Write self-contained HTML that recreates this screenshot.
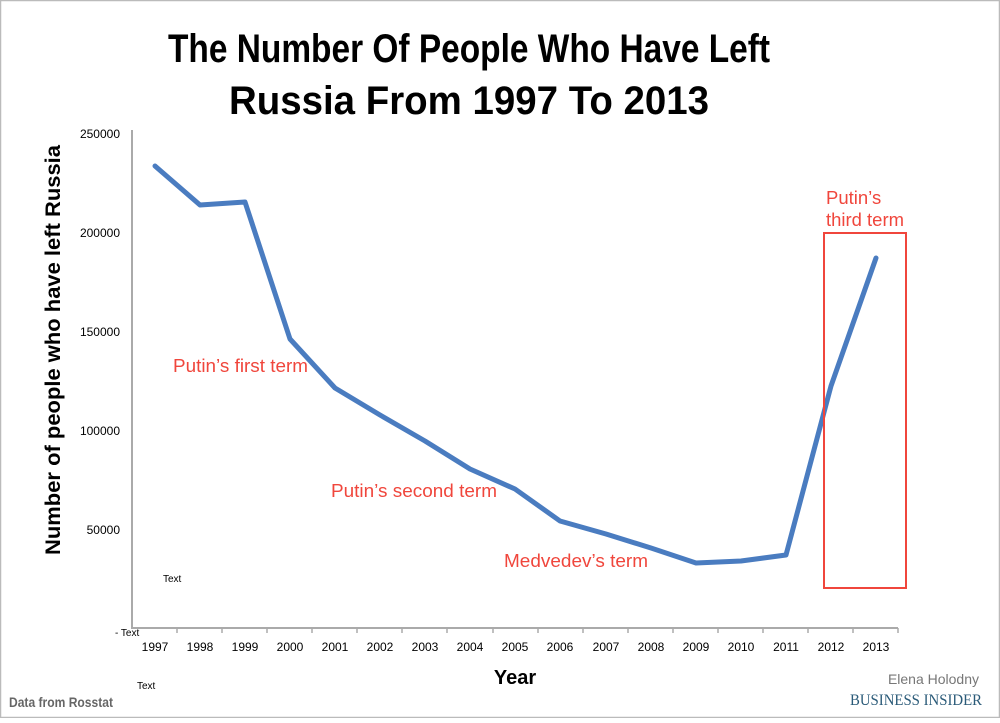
<!DOCTYPE html>
<html><head><meta charset="utf-8"><style>body{margin:0;background:#fff}</style></head><body>
<svg width="1000" height="718" xmlns="http://www.w3.org/2000/svg" font-family="Liberation Sans, sans-serif">
<rect x="0.5" y="0.5" width="999" height="717" fill="#fff" stroke="#bbb" stroke-width="1.5"/>
<text x="469" y="62" font-size="40" font-weight="bold" text-anchor="middle" textLength="602" lengthAdjust="spacingAndGlyphs">The Number Of People Who Have Left</text>
<text x="469" y="114" font-size="40" font-weight="bold" text-anchor="middle" textLength="480" lengthAdjust="spacingAndGlyphs">Russia From 1997 To 2013</text>
<text transform="translate(60,350) rotate(-90)" font-size="21" font-weight="bold" text-anchor="middle" textLength="410" lengthAdjust="spacingAndGlyphs">Number of people who have left Russia</text>
<g stroke="#aaa" stroke-width="2" fill="none">
<line x1="132" y1="130" x2="132" y2="629"/>
<line x1="131" y1="628" x2="898" y2="628"/>
</g>
<g stroke="#aaa" stroke-width="1.5">
<line x1="177" y1="628" x2="177" y2="633"/><line x1="222" y1="628" x2="222" y2="633"/><line x1="267" y1="628" x2="267" y2="633"/><line x1="312" y1="628" x2="312" y2="633"/><line x1="357" y1="628" x2="357" y2="633"/><line x1="402" y1="628" x2="402" y2="633"/><line x1="447" y1="628" x2="447" y2="633"/><line x1="493" y1="628" x2="493" y2="633"/><line x1="538" y1="628" x2="538" y2="633"/><line x1="583" y1="628" x2="583" y2="633"/><line x1="628" y1="628" x2="628" y2="633"/><line x1="673" y1="628" x2="673" y2="633"/><line x1="718" y1="628" x2="718" y2="633"/><line x1="763" y1="628" x2="763" y2="633"/><line x1="808" y1="628" x2="808" y2="633"/><line x1="853" y1="628" x2="853" y2="633"/><line x1="898" y1="628" x2="898" y2="633"/>
</g>
<g font-size="12" text-anchor="end" fill="#000">
<text x="120" y="138">250000</text><text x="120" y="237">200000</text><text x="120" y="336">150000</text><text x="120" y="435">100000</text><text x="120" y="534">50000</text>
</g>
<text x="115" y="636" font-size="10">- Text</text>
<g font-size="12" text-anchor="middle">
<text x="155" y="651">1997</text><text x="200" y="651">1998</text><text x="245" y="651">1999</text><text x="290" y="651">2000</text><text x="335" y="651">2001</text><text x="380" y="651">2002</text><text x="425" y="651">2003</text><text x="470" y="651">2004</text><text x="515" y="651">2005</text><text x="560" y="651">2006</text><text x="606" y="651">2007</text><text x="651" y="651">2008</text><text x="696" y="651">2009</text><text x="741" y="651">2010</text><text x="786" y="651">2011</text><text x="831" y="651">2012</text><text x="876" y="651">2013</text>
</g>
<text x="515" y="684" font-size="20" font-weight="bold" text-anchor="middle">Year</text>
<text x="163" y="582" font-size="10">Text</text>
<text x="137" y="689" font-size="10">Text</text>
<text x="9" y="707" font-size="14" font-weight="bold" fill="#666" textLength="104" lengthAdjust="spacingAndGlyphs">Data from Rosstat</text>
<text x="979" y="684" font-size="14" fill="#777" text-anchor="end" font-family="Liberation Sans Narrow, Liberation Sans, sans-serif">Elena Holodny</text>
<text x="850" y="705" font-size="16" fill="#2a5a78" font-family="Liberation Serif, serif" textLength="132" lengthAdjust="spacingAndGlyphs">BUSINESS INSIDER</text>
<polyline fill="none" stroke="#4a7cc0" stroke-width="5" stroke-linejoin="round" stroke-linecap="round" points="155,166 200,205 245,202 290,339 335,388 380,415 425,441 470,469 515,489 560,521 606,534 651,548 696,563 741,561 786,555 831,386 876,258"/>
<rect x="824" y="233" width="82" height="355" fill="none" stroke="#f0463c" stroke-width="2"/>
<g fill="#f0463c" font-size="18.5">
<text x="826" y="204">Putin’s</text><text x="826" y="226" textLength="78" lengthAdjust="spacingAndGlyphs">third term</text>
<text x="173" y="372" textLength="135" lengthAdjust="spacingAndGlyphs">Putin’s first term</text>
<text x="331" y="497" textLength="166" lengthAdjust="spacingAndGlyphs">Putin’s second term</text>
<text x="504" y="567" textLength="144" lengthAdjust="spacingAndGlyphs">Medvedev’s term</text>
</g>
</svg>
</body></html>
